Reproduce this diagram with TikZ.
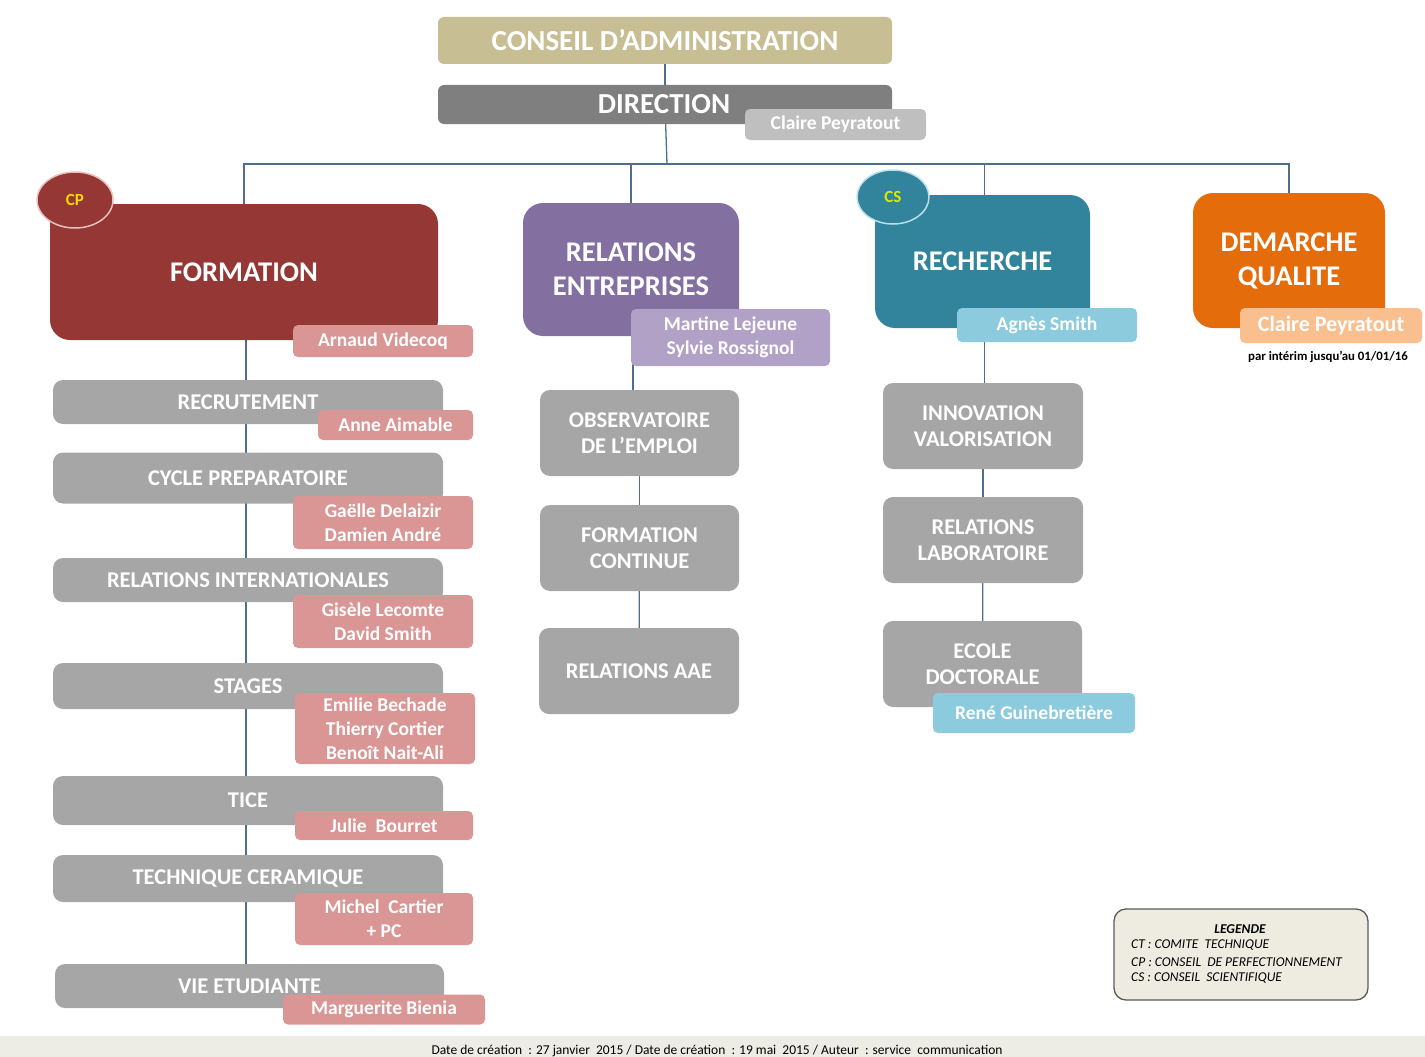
\documentclass[tikz,border=0pt]{standalone}
\usepackage{fontspec}
\setmainfont{Carlito}
\usetikzlibrary{backgrounds, shapes.geometric}
\definecolor{cakhaki}{RGB}{200,190,148}
\definecolor{dirgrey}{RGB}{127,127,127}
\definecolor{lightgrey}{RGB}{191,191,191}
\definecolor{boxgrey}{RGB}{166,166,166}
\definecolor{formred}{RGB}{149,55,53}
\definecolor{formpink}{RGB}{217,150,148}
\definecolor{relpurple}{RGB}{132,112,160}
\definecolor{rellilac}{RGB}{178,161,199}
\definecolor{rechteal}{RGB}{49,132,155}
\definecolor{rechblue}{RGB}{140,203,222}
\definecolor{qualorange}{RGB}{228,108,10}
\definecolor{qualpeach}{RGB}{250,191,143}
\definecolor{linkblue}{RGB}{80,110,140}
\definecolor{legendbg}{RGB}{238,236,225}
\definecolor{footbg}{RGB}{237,237,229}

\tikzset{
  unit/.style={rectangle, inner sep=0pt, align=center, text=white},
  topbox/.style={unit, rounded corners=6pt, font=\bfseries\fontsize{29}{32}\selectfont},
  bigbox/.style={unit, rounded corners=20pt, font=\bfseries\fontsize{28.5}{34}\selectfont},
  greybox/.style={unit, fill=boxgrey, rounded corners=10pt, font=\bfseries\fontsize{22.5}{25.5}\selectfont},
  nametag/.style={unit, rounded corners=5pt, font=\bfseries\fontsize{19.5}{24}\selectfont},
  badge/.style={ellipse, inner sep=0pt, minimum width=76pt, minimum height=56pt, line width=1.5pt, font=\bfseries\fontsize{17}{18}\selectfont},
  link/.style={draw=linkblue, line width=1.3pt},
  legtext/.style={anchor=west, inner sep=0pt, font=\itshape\fontsize{13.5}{15}\selectfont}
}

\begin{document}
\begin{tikzpicture}[x=1pt, y=-1pt]
\useasboundingbox (0,0) rectangle (1425,1057);
\fill[footbg] (0,1036) rectangle (1425,1057);

% Top
\node[topbox, fill=cakhaki, minimum width=454pt, minimum height=47pt] (ca) at (665,40.5) {CONSEIL D’ADMINISTRATION};
\node[topbox, fill=dirgrey, minimum width=454pt, minimum height=39pt] (dir) at (665,104.5) {DIRECTION\hspace*{2pt}};
\node[nametag, fill=lightgrey, minimum width=181pt, minimum height=31pt] (dirname) at (835.5,124.5) {Claire Peyratout};
\coordinate (hub) at (667,164);

% Formation
\node[bigbox, fill=formred, minimum width=388pt, minimum height=136pt] (form) at (244,272) {FORMATION};
\node[badge, fill=formred, draw=formpink!60!white, text={rgb,255:red,255;green,215;blue,0}] (cp) at (75,200) {CP};
\node[nametag, fill=formpink, minimum width=180pt, minimum height=32pt] (formname) at (383,341) {Arnaud Videcoq};

\node[greybox, minimum width=390pt, minimum height=44pt] (recr) at (248,402) {RECRUTEMENT};
\node[nametag, fill=formpink, minimum width=155pt, minimum height=30pt] (recrname) at (395.5,425) {Anne Aimable};
\node[greybox, minimum width=390pt, minimum height=51pt] (cycle) at (248,478) {CYCLE PREPARATOIRE};
\node[nametag, fill=formpink, minimum width=180pt, minimum height=53pt] (cyclename) at (383,522.5) {Gaëlle Delaizir\\Damien André};
\node[greybox, minimum width=390pt, minimum height=44pt] (inter) at (248,580) {RELATIONS INTERNATIONALES};
\node[nametag, fill=formpink, minimum width=180pt, minimum height=53pt] (intername) at (383,621.5) {Gisèle Lecomte\\David Smith};
\node[greybox, minimum width=390pt, minimum height=46pt] (stages) at (248,686) {STAGES};
\node[nametag, fill=formpink, minimum width=180pt, minimum height=71pt] (stagesname) at (385,728.5) {Emilie Bechade\\Thierry Cortier\\Benoît Nait-Ali};
\node[greybox, minimum width=390pt, minimum height=49pt] (tice) at (248,800.5) {TICE};
\node[nametag, fill=formpink, minimum width=178pt, minimum height=29pt] (ticename) at (384,825.5) {Julie\ \ Bourret};
\node[greybox, minimum width=390pt, minimum height=47pt] (cera) at (248,878.5) {TECHNIQUE CERAMIQUE};
\node[nametag, fill=formpink, minimum width=178pt, minimum height=52pt] (ceraname) at (384,919) {Michel\ \ Cartier\\+ PC};
\node[greybox, minimum width=389pt, minimum height=44pt] (vie) at (249.5,986) {VIE ETUDIANTE};
\node[nametag, fill=formpink, minimum width=202pt, minimum height=30pt] (viename) at (384,1009.5) {Marguerite Bienia};

% Relations entreprises
\node[bigbox, fill=relpurple, minimum width=216pt, minimum height=133pt] (relent) at (631,269.5) {RELATIONS\\ENTREPRISES};
\node[nametag, fill=rellilac, minimum width=199pt, minimum height=57pt] (relentname) at (730.5,337.5) {Martine Lejeune\\Sylvie Rossignol};
\node[greybox, minimum width=199pt, minimum height=86pt] (obs) at (639.5,433) {OBSERVATOIRE\\DE L’EMPLOI};
\node[greybox, minimum width=199pt, minimum height=86pt] (fc) at (639.5,548) {FORMATION\\CONTINUE};
\node[greybox, minimum width=200pt, minimum height=86pt] (aae) at (639,671) {RELATIONS AAE};

% Recherche
\node[bigbox, fill=rechteal, minimum width=215pt, minimum height=133pt] (rech) at (982.5,261.5) {RECHERCHE};
\node[badge, fill=rechteal, draw=rechblue!60!white, minimum width=72pt, minimum height=54pt, text={rgb,255:red,215;green,235;blue,0}] (cs) at (893,197) {CS};
\node[nametag, fill=rechblue, minimum width=180pt, minimum height=34pt] (rechname) at (1047,325) {Agnès Smith};
\node[greybox, minimum width=200pt, minimum height=86pt] (innov) at (983,426) {INNOVATION\\VALORISATION};
\node[greybox, minimum width=200pt, minimum height=86pt] (rlab) at (983,540) {RELATIONS\\LABORATOIRE};
\node[greybox, minimum width=199pt, minimum height=86pt] (ecole) at (982.5,664) {ECOLE\\DOCTORALE};
\node[nametag, fill=rechblue, minimum width=202pt, minimum height=40pt] (ecolename) at (1034,713) {René Guinebretière};

% Demarche qualite
\node[bigbox, fill=qualorange, minimum width=192pt, minimum height=135pt] (qual) at (1289,260.5) {DEMARCHE\\QUALITE};
\node[nametag, fill=qualpeach, minimum width=182pt, minimum height=35pt, font=\bfseries\fontsize{22}{24}\selectfont] (qualname) at (1331,325.5) {Claire Peyratout};
\node[inner sep=0pt, font=\bfseries\fontsize{12.8}{14}\selectfont] (qualnote) at (1328,357) {par intérim jusqu’au 01/01/16};

% Legende
\node[draw={rgb,255:red,90;green,90;blue,90}, line width=1.3pt, fill=legendbg, rounded corners=12pt, minimum width=254pt, minimum height=91pt] (legend) at (1241,954.5) {};
\node[inner sep=0pt, font=\bfseries\itshape\fontsize{13.5}{15}\selectfont] (legtitle) at (1240,929) {LEGENDE};
\node[legtext] (legct) at (1131,945.5) {CT : COMITE\ \ TECHNIQUE};
\node[legtext] (legcp) at (1131,962) {CP : CONSEIL\ \ DE PERFECTIONNEMENT};
\node[legtext] (legcs) at (1131,978.5) {CS : CONSEIL\ \ SCIENTIFIQUE};

% Footer
\node[inner sep=0pt, font=\fontsize{13.5}{15}\selectfont] (foot) at (717,1051) {Date de création\ \ : 27 janvier\ \ 2015 / Date de création\ \ : 19 mai\ \ 2015 / Auteur\ \ : service\ \ communication};

% Links
\begin{scope}[on background layer]
\draw[link] (ca) -- (dir);
\draw[link] (dir) -- (hub);
\draw[link] (hub) -| (form.north);
\draw[link] (hub) -| (relent.north);
\draw[link] (hub) -| ([xshift=2pt]rech.north);
\draw[link] (hub) -| (qual.north);
\draw[link] ([xshift=2pt]form.south) -- ([xshift=2pt]form.south |- vie.north);
\draw[link] ([xshift=2pt]relent.south) -- ([xshift=2pt]relent.south |- obs.north);
\draw[link] (obs) -- (fc);
\draw[link] (fc) -- (aae);
\draw[link] ([xshift=2pt]rech.south) -- ([xshift=2pt]rech.south |- innov.north);
\draw[link] (innov) -- (rlab);
\draw[link] (rlab) -- (ecole);
\end{scope}
\end{tikzpicture}
\end{document}
